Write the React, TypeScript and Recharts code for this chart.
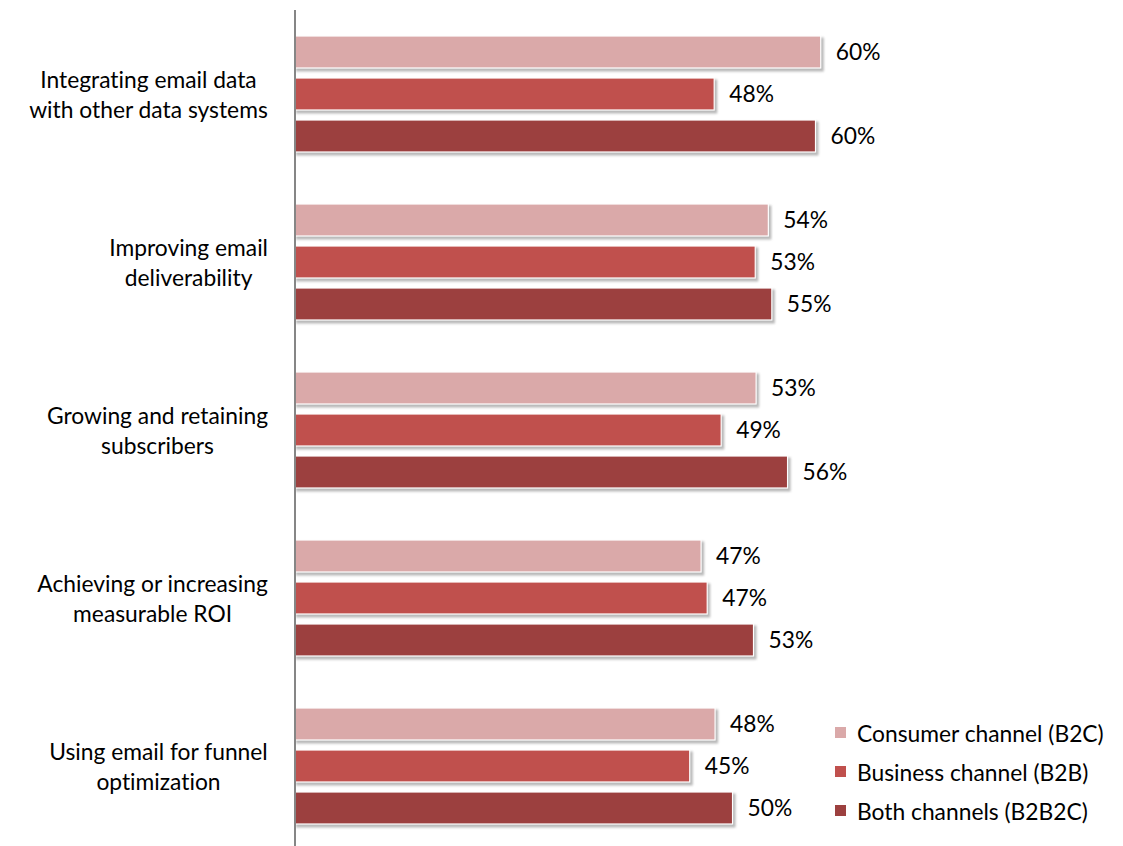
import React from "react";
import { BarChart, Bar, XAxis, YAxis, LabelList } from "recharts";

const categories = [
  "Integrating email data\nwith other data systems",
  "Improving email\ndeliverability",
  "Growing and retaining\nsubscribers",
  "Achieving or increasing\nmeasurable ROI",
  "Using email for funnel\noptimization",
];
const consumerValues = [60.2, 54.2, 52.8, 46.5, 48.1];
const businessValues = [48.0, 52.7, 48.8, 47.2, 45.2];
const bothValues = [59.6, 54.6, 56.4, 52.5, 50.1];
const seriesNames = ["Consumer channel (B2C)", "Business channel (B2B)", "Both channels (B2B2C)"];
const seriesColors = ["#DAA9A9", "#C0504D", "#9C403F"];

const data = categories.map((name, i) => ({
  name,
  consumer: consumerValues[i],
  business: businessValues[i],
  both: bothValues[i],
}));

const FONT = "Lato, 'Open Sans', sans-serif";
const FS = 22.8;
const TEXT_STYLE: React.CSSProperties = { fontVariantLigatures: "none" };

let ctx: CanvasRenderingContext2D | null = null;
function measure(t: string) {
  if (!ctx) {
    const c = document.createElement("canvas");
    ctx = c.getContext("2d");
  }
  if (!ctx) return t.length * FS * 0.5;
  ctx.font = `${FS}px Lato`;
  return ctx.measureText(t).width;
}

const CategoryTick = (props: any) => {
  const { y, payload } = props;
  const lines: string[] = String(payload.value).split("\n");
  const maxW = Math.max(...lines.map(measure));
  const right = 268;
  const cx = right - maxW / 2;
  const lh = 30;
  const startY = y - ((lines.length - 1) * lh) / 2;
  return (
    <g>
      {lines.map((l, i) => (
        <text
          key={i}
          x={cx}
          y={startY + i * lh}
          textAnchor="middle"
          dominantBaseline="central"
          fontFamily={FONT}
          fontSize={FS}
          fill="#000"
          style={TEXT_STYLE}
        >
          {l}
        </text>
      ))}
    </g>
  );
};

const ShadowBar = (props: any) => {
  const { x, y, width, height, fill } = props;
  if (width == null || width <= 0) return null;
  return (
    <g>
      <defs>
        <filter id="barShadowBlur" x="-10%" y="-30%" width="120%" height="160%">
          <feGaussianBlur stdDeviation="1.3" />
        </filter>
      </defs>
      <rect
        x={x + 1}
        y={y + 1.5}
        width={width + 2}
        height={height + 2}
        fill="#7f7f7f"
        opacity={0.55}
        filter="url(#barShadowBlur)"
      />
      <rect x={x} y={y} width={width} height={height} fill={fill} stroke="#ffffff" strokeWidth={1.2} />
    </g>
  );
};

const LegendBox = () => (
  <div
    style={{
      position: "absolute",
      left: 835,
      top: 713,
      fontFamily: FONT,
      fontSize: FS,
      color: "#000",
      fontVariantLigatures: "none",
    }}
  >
    {seriesNames.map((n, i) => (
      <div key={n} style={{ display: "flex", alignItems: "center", height: 39 }}>
        <div style={{ width: 11, height: 11, background: seriesColors[i], marginRight: 11 }} />
        <span style={{ whiteSpace: "nowrap" }}>{n}</span>
      </div>
    ))}
  </div>
);

const labelFmt = (v: any) => `${Math.round(Number(v))}%`;
const labelStyle = { fontFamily: FONT, fontSize: FS, fill: "#000", fontVariantLigatures: "none" } as any;

export default function App() {
  return (
    <div style={{ position: "absolute", left: 0, top: 0, width: 1123, height: 846, overflow: "hidden", background: "#fff" }}>
      <BarChart
        layout="vertical"
        width={1123}
        height={852}
        data={data}
        margin={{ top: 10, right: 42, bottom: 2, left: 0 }}
        barSize={32}
        barGap={10}
        barCategoryGap={26}
      >
        <XAxis type="number" domain={[0, 90]} hide />
        <YAxis
          type="category"
          dataKey="name"
          width={295}
          axisLine={{ stroke: "#868686", strokeWidth: 2 }}
          tickLine={false}
          tick={<CategoryTick />}
          interval={0}
        />
        <Bar dataKey="consumer" name={seriesNames[0]} fill={seriesColors[0]} isAnimationActive={false} shape={<ShadowBar />}>
          <LabelList dataKey="consumer" position="right" offset={15} formatter={labelFmt} style={labelStyle} />
        </Bar>
        <Bar dataKey="business" name={seriesNames[1]} fill={seriesColors[1]} isAnimationActive={false} shape={<ShadowBar />}>
          <LabelList dataKey="business" position="right" offset={15} formatter={labelFmt} style={labelStyle} />
        </Bar>
        <Bar dataKey="both" name={seriesNames[2]} fill={seriesColors[2]} isAnimationActive={false} shape={<ShadowBar />}>
          <LabelList dataKey="both" position="right" offset={15} formatter={labelFmt} style={labelStyle} />
        </Bar>
      </BarChart>
      <LegendBox />
    </div>
  );
}
